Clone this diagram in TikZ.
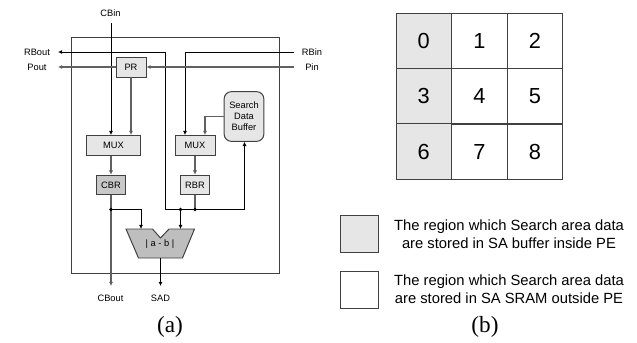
\documentclass[tikz,border=0pt]{standalone}
\usepackage{fontspec}
\setmainfont{Liberation Sans}
\newfontfamily\capfont{Liberation Serif}
\usetikzlibrary{arrows.meta}
\definecolor{boxline}{HTML}{404040}
\definecolor{wireg}{HTML}{606060}
\definecolor{lightg}{HTML}{E6E6E6}
\definecolor{midg}{HTML}{C8C8C8}
\tikzset{
  blk/.style={draw=boxline,line width=.7pt,inner sep=0pt,fill=lightg,font=\fontsize{6.6}{7.8}\selectfont},
  sig/.style={font=\fontsize{6.6}{7.8}\selectfont,inner sep=0pt},
  cell/.style={draw=boxline,line width=.7pt,minimum size=1.39cm,inner sep=0pt,font=\fontsize{15.5}{18}\selectfont},
  legendbox/.style={draw=boxline,line width=.7pt,minimum width=.94cm,minimum height=.925cm,inner sep=0pt},
  note/.style={align=center,inner sep=0pt,font=\fontsize{10.5}{12.8}\selectfont},
  figcap/.style={inner sep=0pt,font=\capfont\fontsize{16.5}{18}\selectfont},
  wire/.style={line width=.6pt,black},
  wirethick/.style={line width=.9pt,wireg},
  tipped/.style={-{Latex[length=3pt,width=3pt]}},
  dotmark/.style={circle,fill=black,inner sep=0pt,minimum size=2.6pt}
}
\begin{document}
\begin{tikzpicture}[x=.025cm,y=-.025cm]
\useasboundingbox (0,0) rectangle (637,342);
% part (a)
\node[draw=boxline,line width=.7pt,minimum width=5.175cm,minimum height=5.89cm,inner sep=0pt] (pe) at (175.5,155.25) {};
\node[blk,minimum width=.75cm,minimum height=.5cm] (PR) at (131,67) {PR};
\node[blk,minimum width=1.35cm,minimum height=.5cm] (MUXa) at (113.5,145.5) {MUX};
\node[blk,minimum width=1cm,minimum height=.5cm] (MUXb) at (195,145.5) {MUX};
\node[blk,minimum width=.74cm,minimum height=.49cm,fill=midg] (CBR) at (111,185) {CBR};
\node[blk,minimum width=.74cm,minimum height=.49cm] (RBR) at (195,185) {RBR};
\node[blk,minimum width=.99cm,minimum height=1.24cm,rounded corners=5pt,align=center] (buffer) at (244,116.5) {Search\\Data\\Buffer};
\coordinate (ta) at (126,229);
\coordinate (tb) at (152.5,229);
\coordinate (tc) at (160.5,238);
\coordinate (td) at (169,229);
\coordinate (te) at (194.5,229);
\coordinate (tf) at (182.5,258);
\coordinate (tg) at (138.5,258);
\draw[draw=boxline,line width=.7pt,fill=midg!95!black] (ta)--(tb)--(tc)--(td)--(te)--(tf)--(tg)--cycle;
\node[sig] (absdiff) at (160,244) {| a - b |};
\node[sig] (CBin) at (110.5,13) {CBin};
\node[sig] (RBout) at (37,52) {RBout};
\node[sig] (Pout) at (37,67) {Pout};
\node[sig] (RBin) at (312,52) {RBin};
\node[sig] (Pin) at (312,67) {Pin};
\node[sig] (CBout) at (110.5,298) {CBout};
\node[sig] (SAD) at (160.5,298) {SAD};
\coordinate (cbinTop) at (111,23);
\coordinate (cboutEnd) at (111,286);
\coordinate (sadEnd) at (160.5,286);
\coordinate (rboutEnd) at (58,52);
\coordinate (poutEnd) at (58,67);
\coordinate (rbinStart) at (294,52);
\coordinate (pinStart) at (294,67);
\coordinate (rbTurn) at (165.5,52);
\coordinate (rbinTurn) at (185,52);
\coordinate (busL) at (165.5,209.5);
\coordinate (busR) at (244.5,209.5);
\coordinate (dotC) at (111,209.5);
\coordinate (dotA) at (180.5,209.5);
\coordinate (dotB) at (195,209.5);
\coordinate (inA) at (141,229);
\coordinate (inB) at (180.5,229);
\coordinate (bufOut) at (205,116.5);
\draw[wire,tipped] (cbinTop) -- (cbinTop |- MUXa.north);
\draw[wire,tipped] (rbTurn) -- (rboutEnd);
\draw[wire] (rbTurn) -- (busL) -- (busR);
\draw[wire,tipped] (busR) -- (busR |- buffer.south);
\draw[wire,tipped] (rbinStart) -- (rbinTurn) -- (rbinTurn |- MUXb.north);
\draw[wirethick,tipped] (PR.west) -- (poutEnd);
\draw[wirethick,tipped] (pinStart) -- (PR.east);
\draw[wirethick,tipped] (PR.south) -- (PR.south |- MUXa.north);
\draw[wirethick,tipped] (buffer.west) -- (bufOut) -- (bufOut |- MUXb.north);
\draw[wirethick,tipped] (CBR.north |- MUXa.south) -- (CBR.north);
\draw[wirethick,tipped] (MUXb.south) -- (RBR.north);
\draw[wirethick] (CBR.south) -- (dotC);
\draw[wirethick,tipped] (dotC) -- (cboutEnd);
\draw[wire,tipped] (dotC) -| (inA);
\draw[wirethick] (RBR.south) -- (dotB);
\draw[wire,tipped] (dotA) -- (inB);
\draw[wire,tipped] (tc |- tg) -- (sadEnd);
\node[dotmark] (jc) at (dotC) {};
\node[dotmark] (ja) at (dotA) {};
\node[dotmark] (jb) at (dotB) {};
\node[figcap] (capa) at (170,327) {(a)};
% part (b)
\node[cell,fill=lightg] (c0) at (423.8,41.1) {0};
\node[cell] (c1) at (479.4,41.1) {1};
\node[cell] (c2) at (535,41.1) {2};
\node[cell,fill=lightg] (c3) at (423.8,96.4) {3};
\node[cell] (c4) at (479.4,96.4) {4};
\node[cell] (c5) at (535,96.4) {5};
\node[cell,fill=lightg] (c6) at (423.8,151.7) {6};
\node[cell] (c7) at (479.4,151.7) {7};
\node[cell] (c8) at (535,151.7) {8};
\node[legendbox,fill=lightg] (keyin) at (359.3,234) {};
\node[legendbox] (keyout) at (359.3,289.5) {};
\node[note] (notein) at (509,234) {The region which Search area data\\are stored in SA buffer inside PE};
\node[note] (noteout) at (509,289) {The region which Search area data\\are stored in SA SRAM outside PE};
\node[figcap] (capb) at (485,327) {(b)};
\end{tikzpicture}
\end{document}
